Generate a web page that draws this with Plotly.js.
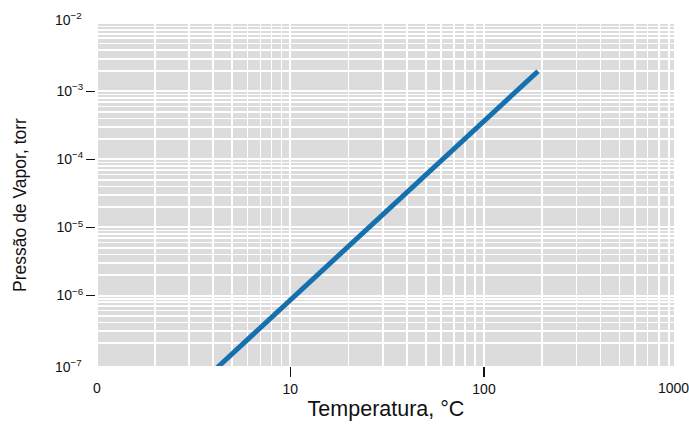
<!DOCTYPE html>
<html>
<head>
<meta charset="utf-8">
<script src="https://cdn.plot.ly/plotly-3.0.1.min.js"></script>
<style>html,body{margin:0;padding:0;background:#fff;}#chart{width:689px;height:424px;}</style>
</head>
<body>
<div id="chart"></div>
<script>
// Data (temperature °C vs vapor pressure torr)
var temperature = [4.2, 10, 20, 50, 100, 150, 190];
var vaporPressure = [8.8e-8, 8.6e-7, 5.3e-6, 5.9e-5, 3.7e-4, 1.06e-3, 1.97e-3];

// Tick labels
var xTickVals = [10, 100];
var xTickText = ['10', '100'];
var xEdgeVals = [1, 1000];
var xEdgeText = ['0', '1000'];
var yTickVals = [1e-6, 1e-5, 1e-4, 1e-3];
var yTickText = ['10<sup>\u22126</sup>', '10<sup>\u22125</sup>', '10<sup>\u22124</sup>', '10<sup>\u22123</sup>'];
var yEdgeVals = [1e-7, 1e-2];
var yEdgeText = ['10<sup>\u22127</sup>', '10<sup>\u22122</sup>'];

var xTitle = 'Temperatura, °C';
var yTitle = 'Pressão de Vapor, torr';

var xRange = [0.007, 2.981];
var yRange = [-7.034, -2.012];

function minorVals(lo, hi) {
  var v = [];
  for (var e = lo; e < hi; e++) {
    for (var m = 2; m <= 9; m++) v.push(m * Math.pow(10, e));
  }
  return v;
}

var W = 689, H = 424;
var M = {l: 95, r: 15, t: 24, b: 58};
var plotW = W - M.l - M.r;
var xDomStart = 3 / plotW;               // small gap between y ticks and plot
var fontFam = 'Liberation Sans, Arial, sans-serif';
var tickFont = {family: fontFam, size: 14, color: '#111'};

// value -> paper fraction helpers
function xPaper(v) { return xDomStart + (1 - xDomStart) * (Math.log10(v) - xRange[0]) / (xRange[1] - xRange[0]); }
function yPaper(v) { return (Math.log10(v) - yRange[0]) / (yRange[1] - yRange[0]); }

var trace = {
  x: temperature,
  y: vaporPressure,
  type: 'scatter',
  mode: 'lines',
  line: {color: '#1670b0', width: 5},
  hoverinfo: 'skip'
};

var annotations = [];
var xShifts = [0, -4];
xEdgeVals.forEach(function (v, i) {
  annotations.push({
    x: xPaper(v), xref: 'paper', y: 0, yref: 'paper', yshift: -22, xshift: xShifts[i],
    text: xEdgeText[i], showarrow: false,
    font: tickFont, yanchor: 'middle', xanchor: 'center'
  });
});
var yShifts = [-2, 4];
yEdgeVals.forEach(function (v, i) {
  annotations.push({
    x: 0, xref: 'paper', xshift: -11, y: yPaper(v), yref: 'paper', yshift: yShifts[i],
    text: yEdgeText[i], showarrow: false,
    font: tickFont, xanchor: 'right', yanchor: 'middle'
  });
});
// y-axis title (placed as in the reference, slightly below centre)
annotations.push({
  x: 0, xref: 'paper', xshift: -75, y: 0.471, yref: 'paper',
  text: yTitle, textangle: -90, showarrow: false,
  font: {family: fontFam, size: 17.5, color: '#111'}, xanchor: 'center', yanchor: 'middle'
});

var layout = {
  width: W, height: H,
  margin: M,
  paper_bgcolor: '#ffffff',
  plot_bgcolor: '#dcdcdd',
  showlegend: false,
  font: {family: fontFam, color: '#111'},
  xaxis: {
    type: 'log',
    domain: [xDomStart, 1],
    range: xRange,
    tickvals: xTickVals, ticktext: xTickText,
    ticks: 'outside', ticklen: 10, tickwidth: 1.5, tickcolor: '#111',
    tickfont: tickFont,
    showgrid: true, gridcolor: '#ffffff', gridwidth: 2,
    minor: {tickvals: minorVals(0, 3), showgrid: true, gridcolor: '#ffffff', gridwidth: 1.6, ticks: ''},
    zeroline: false, showline: false,
    title: {text: xTitle, font: {family: fontFam, size: 21.5, color: '#111'}, standoff: 5}
  },
  yaxis: {
    type: 'log',
    anchor: 'free', position: 0,
    range: yRange,
    tickvals: yTickVals, ticktext: yTickText,
    ticks: 'outside', ticklen: 9, tickwidth: 1.5, tickcolor: '#111',
    tickfont: tickFont,
    showgrid: true, gridcolor: '#ffffff', gridwidth: 2,
    minor: {tickvals: minorVals(-7, -2), showgrid: true, gridcolor: '#ffffff', gridwidth: 1.6, ticks: ''},
    zeroline: false, showline: false
  },
  annotations: annotations
};

Plotly.newPlot('chart', [trace], layout, {displayModeBar: false, staticPlot: true});
</script>
</body>
</html>
